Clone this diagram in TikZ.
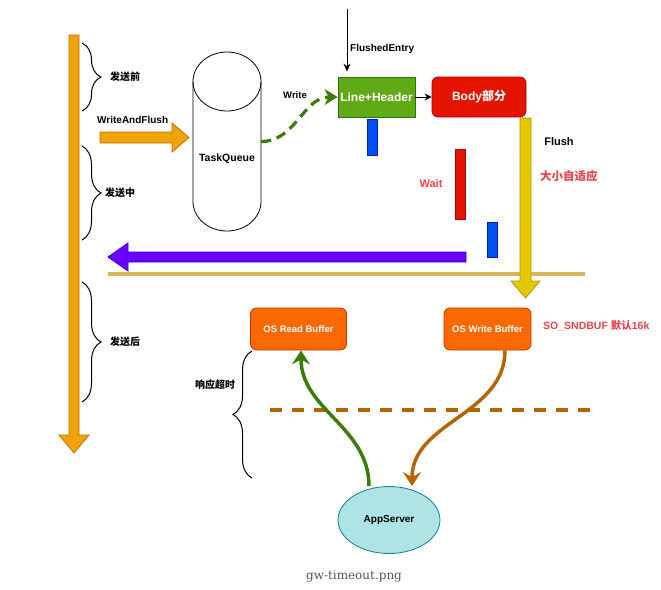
\documentclass[tikz,border=0pt]{standalone}
\usepackage{fontspec}
\setmainfont{Liberation Sans}
\newfontfamily\cjk{Noto Sans CJK SC}
\newfontfamily\capfont{DejaVu Serif}
\usepackage{tikz}
\usetikzlibrary{shapes.geometric, arrows.meta, decorations.pathreplacing}
\definecolor{tlOrange}{HTML}{F0A30A}
\definecolor{tlOrangeDk}{HTML}{BD7000}
\definecolor{flPurple}{HTML}{6A00FF}
\definecolor{flPurpleDk}{HTML}{3700CC}
\definecolor{flYellow}{HTML}{E3C800}
\definecolor{flYellowDk}{HTML}{B09500}
\definecolor{hdGreen}{HTML}{60A917}
\definecolor{hdGreenDk}{HTML}{2D7600}
\definecolor{bdRed}{HTML}{E51400}
\definecolor{bdRedDk}{HTML}{B20000}
\definecolor{barBlue}{HTML}{0050EF}
\definecolor{barBlueDk}{HTML}{001DBC}
\definecolor{osOrange}{HTML}{FA6800}
\definecolor{osOrangeDk}{HTML}{C73500}
\definecolor{appCyan}{HTML}{B0E3E6}
\definecolor{appCyanDk}{HTML}{0E8088}
\definecolor{sepTan}{HTML}{D6B656}
\definecolor{toBrown}{HTML}{B46504}
\definecolor{wrGreen}{HTML}{3A7D0A}
\definecolor{txtRed}{HTML}{E8434A}
\definecolor{capGray}{HTML}{555555}

\begin{document}
\begin{tikzpicture}[x=1pt, y=-1pt, font=\bfseries,
  lbl/.style={inner sep=0pt, font=\fontsize{10}{12}\selectfont\bfseries},
  redlbl/.style={inner sep=0pt, text=txtRed, font=\fontsize{11}{13}\selectfont\bfseries},
  hdbox/.style={draw, line width=0.8pt, inner sep=0pt, text=white, minimum height=40pt, font=\fontsize{12}{14}\selectfont\bfseries},
  bufbox/.style={draw=osOrangeDk, fill=osOrange, line width=0.8pt, rounded corners=6pt, inner sep=0pt, text=white, minimum height=42pt, font=\fontsize{9.5}{12}\selectfont\bfseries},
  brc/.style={decorate, decoration={brace, amplitude=19pt}, line width=1pt},
  bar/.style={line width=0.8pt},
  fatarrow/.style={line width=0.8pt}]
\useasboundingbox (0,0) rectangle (661,589);

% time axis and phases
\filldraw[fatarrow, fill=tlOrange, draw=tlOrangeDk] (69,35) -- (79,35) -- (79,435) -- (89,435) -- (74,453) -- (59,435) -- (69,435) -- cycle;
\draw[brc] (82,43) -- (82,111);
\draw[brc] (82,146) -- (82,240);
\draw[brc] (82,282) -- (82,402);
\node[lbl, anchor=west] (before) at (110,77) {\cjk 发送前};
\node[lbl, anchor=west] (during) at (105,193) {\cjk 发送中};
\node[lbl, anchor=west] (after) at (110,342) {\cjk 发送后};

% write and flush into the queue
\node[lbl, anchor=west] (wafl) at (97,120) {WriteAndFlush};
\filldraw[fatarrow, fill=tlOrange, draw=tlOrangeDk] (100,132) -- (172,132) -- (172,123) -- (189,137.5) -- (172,152) -- (172,143) -- (100,143) -- cycle;
\node[minimum width=68pt, minimum height=179pt, inner sep=0pt] (tq) at (227,141.5) {};
\draw[line width=0.8pt] (227,81.5) ellipse[x radius=34pt, y radius=29.5pt];
\draw[line width=0.8pt] (193,81.5) -- (193,201.5) arc[start angle=180, end angle=360, x radius=34pt, y radius=29.5pt] -- (261,81.5);
\node[inner sep=0pt, font=\fontsize{10.5}{12}\selectfont\bfseries] (tqlbl) at ([yshift=-17pt]tq.center) {TaskQueue};

% line, header and body
\node[hdbox, draw=hdGreenDk, fill=hdGreen, minimum width=77pt] (lh) at (376.5,97) {Line+Header};
\node[hdbox, draw=bdRedDk, fill=bdRed, minimum width=94pt, rounded corners=6pt] (body) at (479,97) {Body{\cjk 部分}};
\draw[wrGreen, line width=3.2pt, dash pattern=on 10pt off 6pt, -{Stealth[length=13pt, width=16pt, inset=4pt]}] (tq.east) to[out=0, in=180] (lh.west);
\node[inner sep=0pt, font=\fontsize{9.5}{12}\selectfont\bfseries] (write) at (295,95) {Write};
\coordinate (fe) at (347,9);
\draw[line width=0.9pt, -{Stealth[length=8pt, width=7pt]}, shorten >=5pt] (fe) -- (fe |- lh.north);
\node[lbl, anchor=west] (flent) at (350,49) {FlushedEntry};
\draw[line width=1pt, -{Stealth[length=7pt, width=7pt]}] (lh) -- (body);

% waiting bars
\filldraw[bar, fill=barBlue, draw=barBlueDk] (367,119) rectangle (377,155);
\filldraw[bar, fill=bdRed, draw=bdRedDk] (455,149) rectangle (465,219);
\filldraw[bar, fill=barBlue, draw=barBlueDk] (487,222) rectangle (497,257);
\node[redlbl] (wait) at (431,184) {Wait};

% flush down to the socket buffer
\draw[sepTan, line width=3.5pt] (108,274) -- (585,274);
\filldraw[fatarrow, fill=flYellow, draw=flYellowDk] (520,118) -- (531,118) -- (531,281) -- (540,281) -- (525.5,298) -- (511,281) -- (520,281) -- cycle;
\node[inner sep=0pt, font=\fontsize{11}{13}\selectfont\bfseries] (flush) at (559,142) {Flush};
\node[redlbl, anchor=west, font=\fontsize{11.5}{13}\selectfont\cjk\bfseries] (adapt) at (540,176) {大小自适应};
\filldraw[fatarrow, fill=flPurple, draw=flPurpleDk] (466,252) -- (466,262) -- (128,262) -- (128,271) -- (108,257) -- (128,243) -- (128,252) -- cycle;

% socket buffers and app server
\node[bufbox, minimum width=96pt] (osr) at (298.5,329) {OS Read Buffer};
\node[bufbox, minimum width=87pt] (osw) at (487.5,329) {OS Write Buffer};
\node[redlbl, anchor=west, font=\fontsize{10.5}{12}\selectfont\bfseries] (sndbuf) at (543,326) {SO\_SNDBUF {\cjk 默认}16k};
\draw[toBrown, line width=4pt, dash pattern=on 12pt off 10pt] (270,410) -- (590,410);
\node[ellipse, draw=appCyanDk, fill=appCyan, line width=0.8pt, minimum width=102pt, minimum height=67pt, inner sep=0pt, font=\fontsize{10}{12}\selectfont\bfseries] (app) at (389,520) {AppServer};
\draw[wrGreen, line width=3.5pt, -{Stealth[length=14pt, width=18pt, inset=5pt]}] ([xshift=-20pt]app.north) to[out=90, in=-90] ([xshift=2.5pt]osr.south);
\draw[toBrown, line width=3.5pt, -{Stealth[length=14pt, width=18pt, inset=5pt]}] ([xshift=17.5pt]osw.south) to[out=-90, in=90] ([xshift=23pt]app.north);
\draw[brc] (252,478) -- (252,351);
\node[lbl, anchor=west] (resp) at (195,385) {\cjk 响应超时};

\node[font=\capfont\fontsize{12}{14}\selectfont, text=capGray, inner sep=0pt] (cap) at (354,576) {gw-timeout.png};
\end{tikzpicture}
\end{document}
